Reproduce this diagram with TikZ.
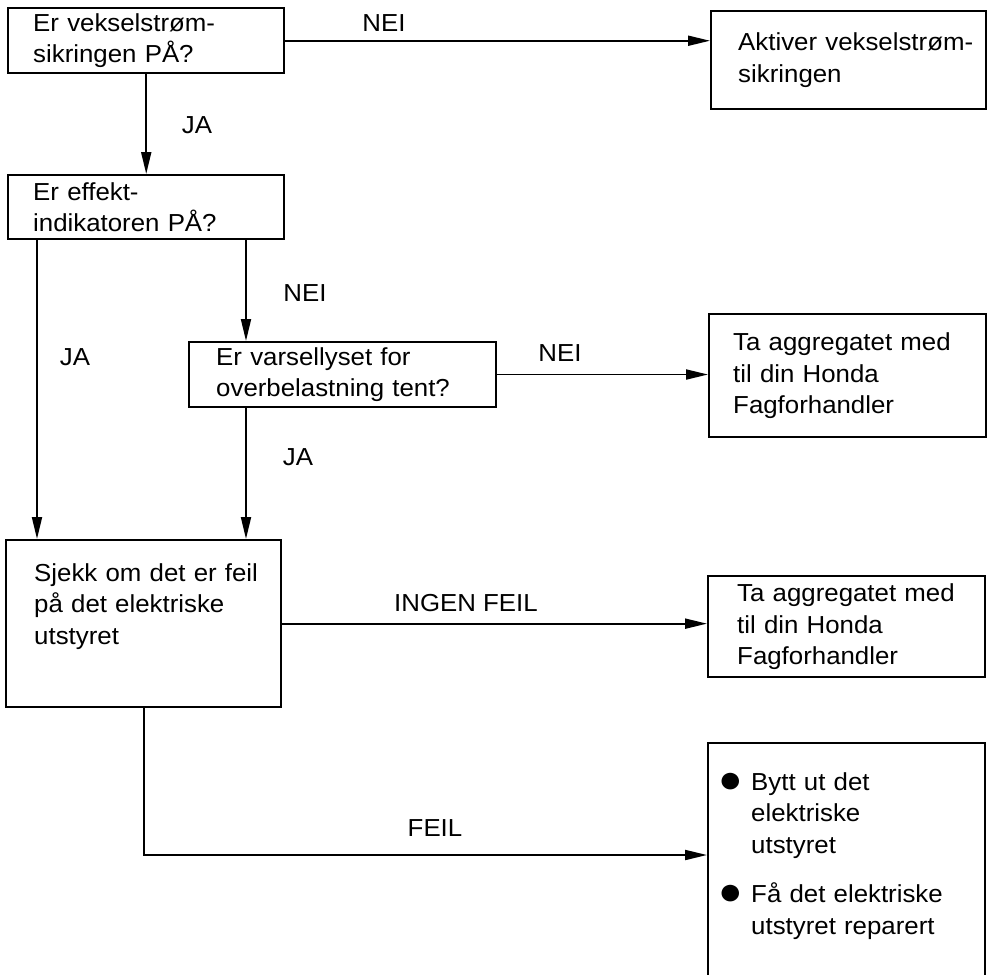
\documentclass[tikz,border=0pt]{standalone}
\usepackage{fontspec}
\setmainfont{Liberation Sans}[FakeStretch=1.05]
\usetikzlibrary{arrows.meta}

\newcommand{\dotmark}{\llap{\raisebox{-0.08em}{\fontsize{22}{18}\selectfont ●}\hspace{0.16cm}}}

\tikzset{
  box/.style={draw, line width=1.4pt, anchor=north west, align=left,
    inner xsep=0.5cm, inner ysep=0.1cm},
  arr/.style={line width=1.1pt, -{Triangle[length=4.4mm,width=2mm]}},
  lbl/.style={inner sep=0pt}
}

\begin{document}
\begin{tikzpicture}[font=\fontsize{14}{18}\selectfont]
  \useasboundingbox (0,0) rectangle (19.8,-19.48);
  % question boxes
  \node[box, text width=4.52cm, minimum height=1.30cm] (vsik) at (0.14,-0.14)
    {\mbox{Er vekselstrøm-}\\sikringen PÅ?};
  \node[box, inner xsep=0.54cm, text width=4.42cm, minimum height=1.96cm] (akt) at (14.2,-0.2)
    {\mbox{Aktiver vekselstrøm-}\\sikringen};
  \node[box, text width=4.52cm, minimum height=1.28cm] (eff) at (0.14,-3.48)
    {\mbox{Er effekt-}\\\mbox{indikatoren PÅ?}};
  \node[box, inner xsep=0.54cm, text width=5.06cm, minimum height=1.28cm] (varsel) at (3.76,-6.82)
    {\mbox{Er varsellyset for}\\\mbox{overbelastning tent?}};
  \node[box, inner xsep=0.48cm, text width=4.58cm, minimum height=2.46cm] (honda1) at (14.16,-6.26)
    {\mbox{Ta aggregatet med}\\til din Honda\\Fagforhandler};
  \node[box, inner xsep=0.56cm, inner ysep=0.46cm, text width=4.38cm, text depth=2.06cm] (sjekk) at (0.1,-10.78)
    {\mbox{Sjekk om det er feil}\\\mbox{på det elektriske}\\utstyret};
  \node[box, inner xsep=0.58cm, text width=4.38cm, minimum height=2.02cm] (honda2) at (14.14,-11.5)
    {\mbox{Ta aggregatet med}\\til din Honda\\Fagforhandler};
  \node[box, inner xsep=0.86cm, inner ysep=0.58cm, text width=3.82cm, text depth=6cm] (tiltak) at (14.14,-14.84)
    {\mbox{\dotmark Bytt ut det}\\elektriske\\utstyret\\[0.36cm]%
     \mbox{\dotmark Få det elektriske}\\\mbox{utstyret reparert}};

  % connectors
  \draw[arr] (vsik.east) -- (vsik.east -| akt.west);
  \draw[arr] (vsik.south) -- (eff.north);
  \draw[arr] ([xshift=0.6cm]eff.south west) -- ([xshift=0.6cm]eff.south west |- sjekk.north);
  \draw[arr] ([xshift=4.78cm]eff.south west) -- ([xshift=4.78cm]eff.south west |- varsel.north);
  \draw[arr] (varsel.east) -- (varsel.east -| honda1.west);
  \draw[arr] ([xshift=1.16cm]varsel.south west) -- ([xshift=1.16cm]varsel.south west |- sjekk.north);
  \draw[arr] (sjekk.east) -- (sjekk.east -| honda2.west);
  \draw[arr] (sjekk.south) |- ([yshift=-2.26cm]tiltak.north west);

  % labels
  \node[lbl] (nei1) at (7.68,-0.46) {NEI};
  \node[lbl] (ja1) at (3.94,-2.5) {JA};
  \node[lbl] (nei2) at (6.1,-5.86) {NEI};
  \node[lbl] (ja2) at (1.5,-7.14) {JA};
  \node[lbl] (nei3) at (11.2,-7.06) {NEI};
  \node[lbl] (ja3) at (5.96,-9.14) {JA};
  \node[lbl] (ingen) at (9.32,-12.06) {INGEN FEIL};
  \node[lbl] (feil) at (8.7,-16.56) {FEIL};
\end{tikzpicture}
\end{document}
